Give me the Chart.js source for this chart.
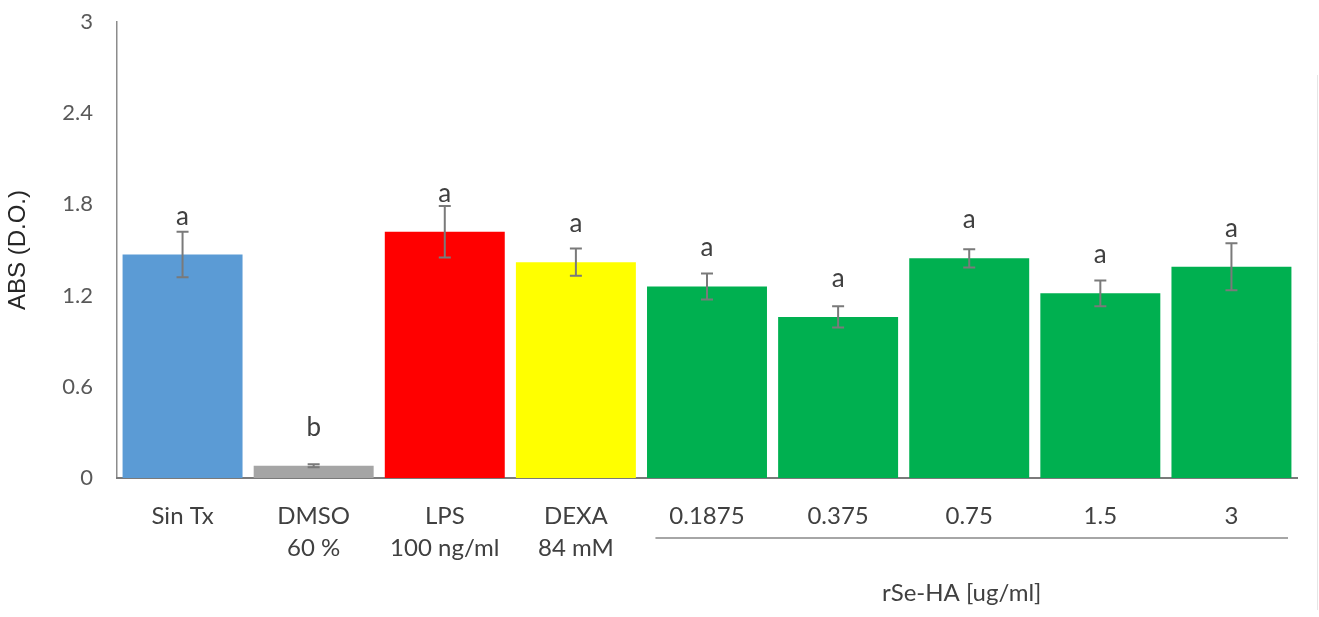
<!DOCTYPE html>
<html>
<head>
<meta charset="utf-8">
<script src="https://cdn.jsdelivr.net/npm/chart.js@4/dist/chart.umd.min.js"></script>
<style>
  html, body { margin: 0; padding: 0; background: #fff; }
  #wrap { width: 1319px; height: 617px; position: relative; }
</style>
</head>
<body>
<div id="wrap"><canvas id="chartAbs"></canvas></div>
<script>
// data
const categories = [
  ["Sin Tx"], ["DMSO", "60 %"], ["LPS", "100 ng/ml"], ["DEXA", "84 mM"],
  ["0.1875"], ["0.375"], ["0.75"], ["1.5"], ["3"]
];
const absValues = [1.47, 0.08, 1.62, 1.42, 1.26, 1.06, 1.445, 1.215, 1.39];
const absErrors = [0.15, 0.01, 0.17, 0.09, 0.085, 0.07, 0.06, 0.085, 0.155];
const letters = ["a", "b", "a", "a", "a", "a", "a", "a", "a"];
const barColors = ["#5B9BD5", "#A5A5A5", "#FF0000", "#FFFF00",
  "#00B050", "#00B050", "#00B050", "#00B050", "#00B050"];
const yTicks = [0, 0.6, 1.2, 1.8, 2.4, 3];
const groupLabel = "rSe-HA [ug/ml]";
const groupFrom = 4, groupTo = 8;

// error bars + significance letters
const errorBars = {
  id: "errorBars",
  afterDatasetsDraw(chart) {
    const ctx = chart.ctx;
    const x = chart.scales.x, y = chart.scales.y;
    ctx.save();
    absValues.forEach((v, i) => {
      const cx = x.getPixelForValue(i);
      const yTop = y.getPixelForValue(v + absErrors[i]);
      const yBot = y.getPixelForValue(v - absErrors[i]);
      ctx.strokeStyle = "#7a7a7a";
      ctx.lineWidth = 2;
      ctx.beginPath();
      ctx.moveTo(cx, yTop); ctx.lineTo(cx, yBot);
      ctx.moveTo(cx - 6, yTop); ctx.lineTo(cx + 6, yTop);
      ctx.moveTo(cx - 6, yBot); ctx.lineTo(cx + 6, yBot);
      ctx.stroke();
      ctx.fillStyle = "#404040";
      ctx.font = "26px Lato";
      ctx.textAlign = "center";
      ctx.textBaseline = "alphabetic";
      ctx.fillText(letters[i], cx, y.getPixelForValue(v) - 30);
    });
    ctx.restore();
  },
  afterDraw(chart) {
    const ctx = chart.ctx;
    const x = chart.scales.x;
    const catW = x.getPixelForValue(1) - x.getPixelForValue(0);
    const left = x.getPixelForValue(groupFrom) - catW / 2 + 14;
    const right = x.getPixelForValue(groupTo) + catW / 2 - 9;
    ctx.save();
    ctx.strokeStyle = "#a6a6a6";
    ctx.lineWidth = 2;
    ctx.beginPath();
    ctx.moveTo(left, x.top + 60);
    ctx.lineTo(right, x.top + 60);
    ctx.stroke();
    ctx.fillStyle = "#404040";
    ctx.font = "24px Lato";
    ctx.textAlign = "center";
    ctx.textBaseline = "middle";
    ctx.fillText(groupLabel, (left + right) / 2 - 10, x.top + 115);
    // faint frame edge at the right
    ctx.strokeStyle = "#e6e6e6";
    ctx.lineWidth = 1;
    ctx.beginPath();
    ctx.moveTo(chart.width - 1.5, 75);
    ctx.lineTo(chart.width - 1.5, chart.height - 7);
    ctx.stroke();
    ctx.restore();
  }
};

new Chart(document.getElementById("chartAbs"), {
  type: "bar",
  data: {
    labels: categories,
    datasets: [{
      data: absValues,
      backgroundColor: barColors,
      borderWidth: 0,
      categoryPercentage: 1,
      barPercentage: 0.915
    }]
  },
  options: {
    responsive: true,
    maintainAspectRatio: false,
    animation: false,
    layout: { padding: { top: 22, right: 22, left: 0, bottom: 0 } },
    plugins: { legend: { display: false }, tooltip: { enabled: false } },
    scales: {
      y: {
        min: 0, max: 3,
        afterBuildTicks: (s) => { s.ticks = yTicks.map(v => ({ value: v })); },
        afterFit: (s) => { s.width = 117; s.paddingTop = 0; s.paddingBottom = 0; },
        grid: { display: false, drawTicks: false },
        border: { display: true, color: "#8c8c8c", width: 1.5 },
        ticks: {
          color: "#595959",
          font: { family: "Lato", size: 22 },
          padding: 24,
          callback: (v) => String(v)
        },
        title: {
          display: true, text: "ABS (D.O.)", color: "#262626",
          font: { family: "Liberation Sans", size: 24 }, padding: { bottom: 0 }
        }
      },
      x: {
        afterFit: (s) => { s.height = 139; },
        grid: { display: false, drawTicks: false },
        border: { display: true, color: "#7a7a7a", width: 2 },
        ticks: {
          color: "#404040",
          font: { family: "Lato", size: 24, lineHeight: 1.35 },
          padding: 22,
          maxRotation: 0, autoSkip: false
        }
      }
    }
  },
  plugins: [errorBars]
});
</script>
</body>
</html>
